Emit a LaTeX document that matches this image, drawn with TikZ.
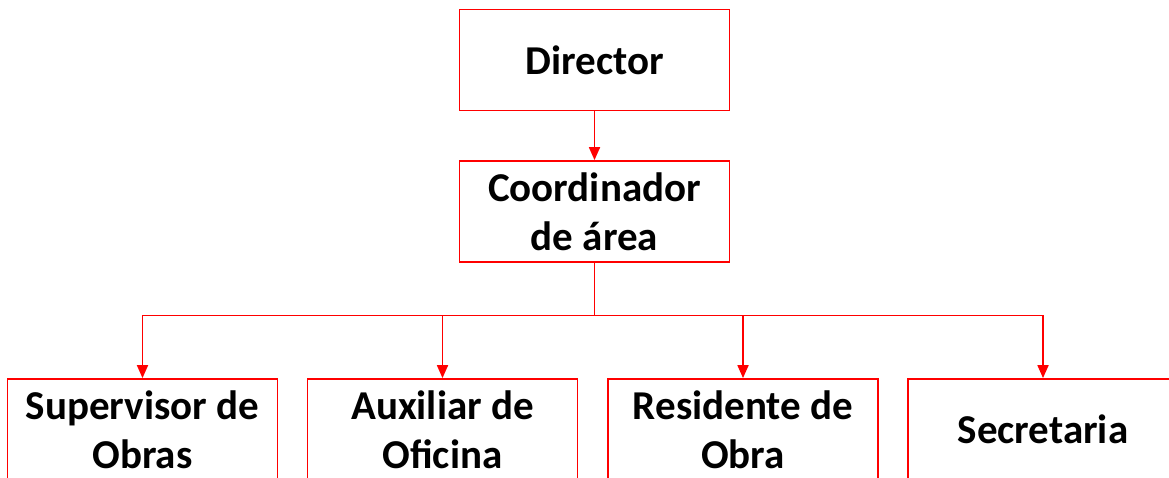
\documentclass[tikz,border=0pt]{standalone}
\usepackage{fontspec}
\setmainfont{Carlito}
\usetikzlibrary{arrows.meta}

\begin{document}
\begin{tikzpicture}[x=1pt, y=-1pt,
    box/.style={draw=red, line width=1.8pt, minimum width=270pt, minimum height=101pt,
      align=center, inner sep=0pt, font=\fontsize{41}{49}\selectfont\bfseries},
    arr/.style={draw=red, line width=1.8pt, -{Triangle[width=11pt,length=13pt]}}]
      % Page frame
      \clip (0,0) rectangle (1169,477);

      % Top boxes
      \node[box] (director) at (594.5,60) {Director};
      \node[box] (coord) at (594.5,211.5) {Coordinador\\de área};

      % Bottom row
      \node[box] (supervisor) at (142.5,429.5) {Supervisor de\\Obras};
      \node[box] (auxiliar) at (442.5,429.5) {Auxiliar de\\Oficina};
      \node[box] (residente) at (743,429.5) {Residente de\\Obra};
      \node[box] (secretaria) at (1043,429.5) {Secretaria};

      % Connectors
      \draw[arr] (director) -- (coord);
      \coordinate (bus) at (594.5,315.5);
      \draw[red, line width=1.8pt] (coord.south) -- (bus);
      \draw[arr] (bus) -| (supervisor.north);
      \draw[arr] (bus) -| (auxiliar.north);
      \draw[arr] (bus) -| (residente.north);
      \draw[arr] (bus) -| (secretaria.north);
  \end{tikzpicture}
\end{document}
